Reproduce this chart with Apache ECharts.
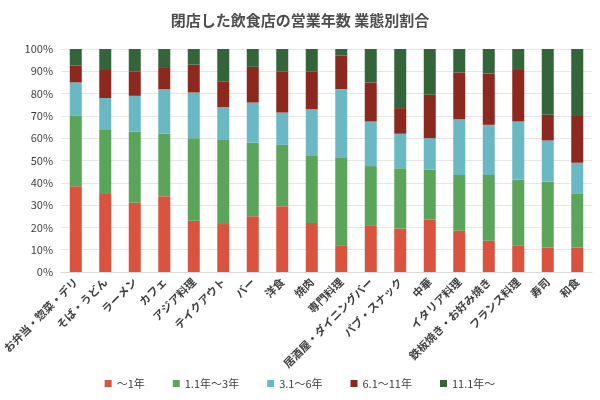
<!DOCTYPE html>
<html><head><meta charset="utf-8">
<script src="https://cdn.jsdelivr.net/npm/echarts@6/dist/echarts.min.js"></script>
<style>body{margin:0}#c{width:600px;height:400px}</style></head>
<body><div id="c"></div>
<script>
// 業態
const categories = ['お弁当・惣菜・デリ','そば・うどん','ラーメン','カフェ','アジア料理','テイクアウト','バー','洋食','焼肉','専門料理','居酒屋・ダイニングバー','パブ・スナック','中華','イタリア料理','鉄板焼き・お好み焼き','フランス料理','寿司','和食'];
// 累積値(%)
const cum1 = [38.5,35,31,34,23,21.5,25,29.5,22,12,21,19.5,23.5,18.5,14,12,11,11];
const cum2 = [70,64,63,62,60,59.5,58,57,52,51.5,47.5,46.5,46,43.5,43.5,41.5,40.5,35];
const cum3 = [85,78,79,82,80.5,74,76,71.5,73,82,67.5,62,60,68.5,66,67.5,59,49];
const cum4 = [92.5,91,90,91.5,93,85.5,92,90,90,97,85,73.5,79.5,89.5,89,91,70.5,70];
const seriesNames = ['～1年','1.1年～3年','3.1～6年','6.1～11年','11.1年～'];
const colors = ['#d9533f','#5aa55a','#69b8c4','#8c281e','#33643a'];

const r = v => Math.round(v * 10) / 10;
const s1 = cum1;
const s2 = cum2.map((v, i) => r(v - cum1[i]));
const s3 = cum3.map((v, i) => r(v - cum2[i]));
const s4 = cum4.map((v, i) => r(v - cum3[i]));
const s5 = cum4.map(v => r(100 - v));
const data = [s1, s2, s3, s4, s5];

const chart = echarts.init(document.getElementById('c'));
chart.setOption({
    textStyle: { fontFamily: 'Noto Sans CJK JP' },
    title: {
        text: '閉店した飲食店の営業年数 業態別割合',
        left: 'center', top: 8,
        textStyle: { fontSize: 15, fontWeight: 'bold', color: '#4d4d4d' }
    },
    legend: {
        bottom: 6, itemWidth: 7, itemHeight: 7, itemGap: 28, icon: 'rect',
        textStyle: { fontSize: 11, color: '#404040' }
    },
    grid: { left: 52, right: 8, top: 49, bottom: 128 },
    xAxis: {
        type: 'category', data: categories,
        axisTick: { show: false },
        axisLine: { lineStyle: { color: '#d9d9d9' } },
        axisLabel: { interval: 0, rotate: 45, fontSize: 11, fontWeight: 'bold', color: '#404040', margin: 8 }
    },
    yAxis: {
        type: 'value', min: 0, max: 100, interval: 10,
        axisLabel: { formatter: '{value}%', fontSize: 11, color: '#404040' },
        splitLine: { lineStyle: { color: '#e6e6e6' } }
    },
    series: data.map((d, i) => ({
        name: seriesNames[i], type: 'bar', stack: 'a', data: d,
        barWidth: 12, itemStyle: { color: colors[i] }
    }))
});
</script></body></html>
